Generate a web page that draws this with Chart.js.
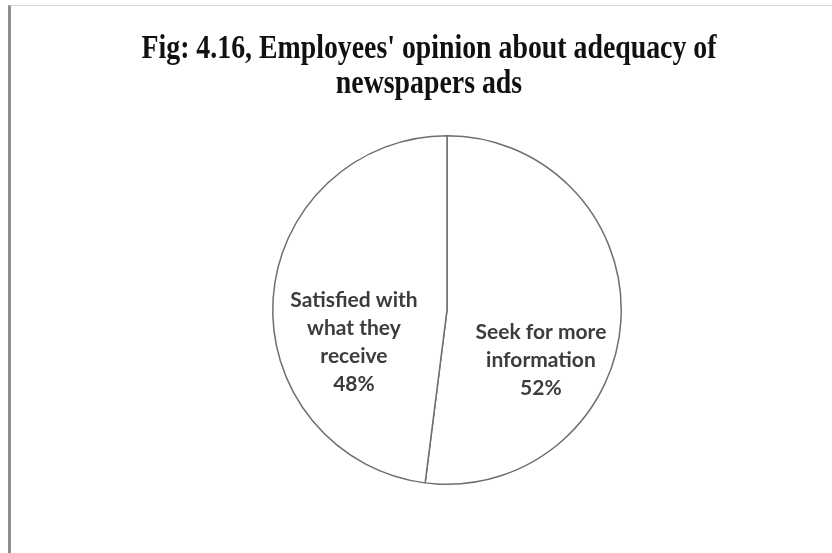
<!DOCTYPE html>
<html>
<head>
<meta charset="utf-8">
<script src="https://cdn.jsdelivr.net/npm/chart.js@4.4.1/dist/chart.umd.min.js"></script>
<style>
  html, body { margin: 0; padding: 0; background: #ffffff; }
  #frame {
    position: absolute; left: 8px; top: 5px; width: 824px; height: 548px;
    border-left: 3px solid #8e8e8e; border-top: 1px solid #d4d4d4;
    box-sizing: border-box;
  }
  #wrap { position: absolute; left: 0; top: 0; width: 832px; height: 553px; }
</style>
</head>
<body>
<div id="frame"></div>
<div id="wrap"><canvas id="c" width="832" height="553"></canvas></div>
<script>
// Survey answers, share of employees (%)
const categories = ['Seek for more information', 'Satisfied with what they receive'];
const shares = [52, 48];
// Slice labels, one line per entry
const labelLines = [
  ['Seek for more', 'information', '52%'],
  ['Satisfied with', 'what they', 'receive', '48%']
];
const titleLines = ["Fig: 4.16, Employees' opinion about adequacy of", 'newspapers ads'];

// Where each label sits: fraction of the radius along the slice bisector, plus a vertical nudge
const labelPlacement = [
  { rFrac: 0.54, dy: 44 },
  { rFrac: 0.535, dy: 38 }
];

const titlePlugin = {
  id: 'figTitle',
  afterDraw(chart) {
    const ctx = chart.ctx;
    ctx.save();
    ctx.fillStyle = '#111111';
    ctx.font = 'bold 33px "Liberation Serif", "Times New Roman", serif';
    ctx.textAlign = 'center';
    ctx.textBaseline = 'alphabetic';
    const cx = 429;
    const baselines = [58, 93];
    // condensed heading: squeeze the first line to a fixed width, reuse the factor for the second
    const sx = Math.min(1, 575 / ctx.measureText(titleLines[0]).width);
    titleLines.forEach((t, i) => {
      ctx.save();
      ctx.translate(cx, baselines[i]);
      ctx.scale(sx, 1);
      ctx.fillText(t, 0, 0);
      ctx.restore();
    });
    ctx.restore();
  }
};

const sliceLabels = {
  id: 'sliceLabels',
  afterDatasetsDraw(chart) {
    const ctx = chart.ctx;
    const meta = chart.getDatasetMeta(0);
    ctx.save();
    ctx.fillStyle = '#3c3c3c';
    ctx.font = 'bold 21px Lato, "Open Sans", sans-serif';
    ctx.textAlign = 'center';
    ctx.textBaseline = 'middle';
    meta.data.forEach((arc, i) => {
      const p = arc.getProps(['x', 'y', 'startAngle', 'endAngle', 'outerRadius'], true);
      const mid = (p.startAngle + p.endAngle) / 2;
      const d = p.outerRadius * labelPlacement[i].rFrac;
      const lx = p.x + Math.cos(mid) * d;
      const ly = p.y + Math.sin(mid) * d + labelPlacement[i].dy;
      const lines = labelLines[i];
      const lh = 28;
      const top = ly - (lines.length - 1) * lh / 2;
      lines.forEach((t, k) => ctx.fillText(t, lx, top + k * lh));
    });
    ctx.restore();
  }
};

new Chart(document.getElementById('c'), {
  type: 'pie',
  data: {
    labels: categories,
    datasets: [{
      data: shares,
      backgroundColor: '#ffffff',
      borderColor: '#6e6e6e',
      borderWidth: 1.5,
      borderAlign: 'center'
    }]
  },
  options: {
    responsive: false,
    animation: false,
    rotation: 0,
    layout: { padding: { top: 135, bottom: 68, left: 272, right: 210 } },
    plugins: {
      legend: { display: false },
      tooltip: { enabled: false },
      title: { display: false }
    }
  },
  plugins: [titlePlugin, sliceLabels]
});
</script>
</body>
</html>
